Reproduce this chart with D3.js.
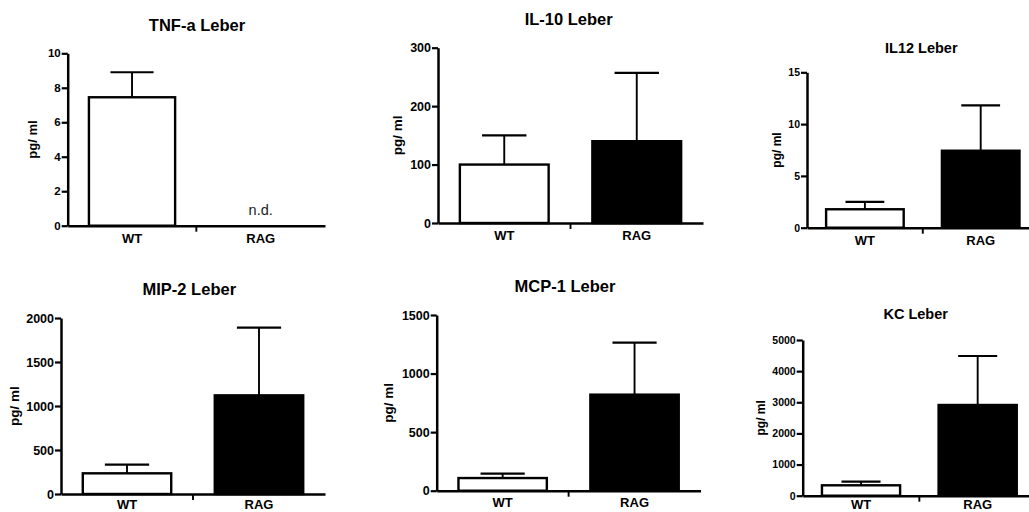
<!DOCTYPE html>
<html>
<head>
<meta charset="utf-8">
<script src="https://cdn.jsdelivr.net/npm/d3@7"></script>
<style>
  html, body { margin: 0; padding: 0; background: #fff; }
  svg { display: block; }
  text { font-family: "Liberation Sans", Arial, Helvetica, sans-serif; }
</style>
</head>
<body>
<svg id="chart" width="1029" height="512"></svg>
<script>
// Cytokine levels in liver (pg/ml), WT vs RAG, mean + SEM
const categories = ["WT", "RAG"];
const panelTitles = ["TNF-a Leber", "IL-10 Leber", "IL12 Leber", "MIP-2 Leber", "MCP-1 Leber", "KC Leber"];
const yLabel = "pg/ ml";
const yMax = [10, 300, 15, 2000, 1500, 5000];
const yTicks = [
  [0, 2, 4, 6, 8, 10],
  [0, 100, 200, 300],
  [0, 5, 10, 15],
  [0, 500, 1000, 1500, 2000],
  [0, 500, 1000, 1500],
  [0, 1000, 2000, 3000, 4000, 5000]
];
const meanWT  = [7.45, 100, 1.78, 235, 108, 334];
const semWT   = [1.45, 50, 0.72, 98, 37, 116];
const meanRAG = [null, 140, 7.43, 1121, 820, 2913];
const semRAG  = [null, 117, 4.37, 769, 444, 1573];
const notDetected = "n.d.";

// Placement of each small plot on the page
const layout = [
  {x0: 67.7,  x1: 325,    yTop: 53.3, yZero: 225.7, titleX: 197,   titleY: 30.5,  titleSize: 16.5, tickFont: 11.5, ylabX: 37,    ylabSize: 13,   labPad: 8},
  {x0: 438,   x1: 703,    yTop: 47.7, yZero: 223,   titleX: 568.7, titleY: 25,    titleSize: 16.5, tickFont: 12.5, ylabX: 402,   ylabSize: 13.5, labPad: 8},
  {x0: 807,   x1: 1038.6, yTop: 72.3, yZero: 227.7, titleX: 921.3, titleY: 52.7,  titleSize: 14.5, tickFont: 10.5, ylabX: 781,   ylabSize: 12,   labPad: 8},
  {x0: 61,    x1: 325,    yTop: 318,  yZero: 494,   titleX: 189.3, titleY: 295,   titleSize: 16.5, tickFont: 12.5, ylabX: 19,    ylabSize: 13.5, labPad: 5.5},
  {x0: 436.7, x1: 700.5,  yTop: 315,  yZero: 490.7, titleX: 565,   titleY: 292.3, titleSize: 16.5, tickFont: 12.5, ylabX: 392.5, ylabSize: 13.5, labPad: 7},
  {x0: 802.7, x1: 1036,   yTop: 340,  yZero: 495.7, titleX: 915.7, titleY: 319.3, titleSize: 14.5, tickFont: 10.5, ylabX: 765,   ylabSize: 12,   labPad: 4.5}
];

const svg = d3.select("#chart");
const fills = {WT: "#fff", RAG: "#000"};
const axisWidth = 2.5;

panelTitles.forEach((title, i) => {
  const L = layout[i];
  const g = svg.append("g");

  const x = d3.scaleBand().domain(categories).range([L.x0, L.x1])
    .paddingInner(0.33).paddingOuter(0.165);
  const y = d3.scaleLinear().domain([0, yMax[i]]).range([L.yZero, L.yTop]);

  const rows = [
    {cat: "WT",  mean: meanWT[i],  sem: semWT[i]},
    {cat: "RAG", mean: meanRAG[i], sem: semRAG[i]}
  ];
  const shown = rows.filter(d => d.mean != null);

  // bars
  g.selectAll("rect.bar").data(shown).join("rect")
    .attr("class", "bar")
    .attr("x", d => x(d.cat))
    .attr("width", x.bandwidth())
    .attr("y", d => y(d.mean))
    .attr("height", d => y(0) - y(d.mean))
    .attr("fill", d => fills[d.cat])
    .attr("stroke", "#000")
    .attr("stroke-width", 2.4);

  // upper error bars
  g.selectAll("line.err").data(shown).join("line")
    .attr("class", "err")
    .attr("x1", d => x(d.cat) + x.bandwidth() / 2)
    .attr("x2", d => x(d.cat) + x.bandwidth() / 2)
    .attr("y1", d => y(d.mean))
    .attr("y2", d => y(d.mean + d.sem))
    .attr("stroke", "#000").attr("stroke-width", 1.9);
  g.selectAll("line.cap").data(shown).join("line")
    .attr("class", "cap")
    .attr("x1", d => x(d.cat) + x.bandwidth() * 0.25)
    .attr("x2", d => x(d.cat) + x.bandwidth() * 0.75)
    .attr("y1", d => y(d.mean + d.sem))
    .attr("y2", d => y(d.mean + d.sem))
    .attr("stroke", "#000").attr("stroke-width", 2.2);

  // not-detected note
  rows.filter(d => d.mean == null).forEach(d => {
    g.append("text")
      .attr("x", x(d.cat) + x.bandwidth() / 2)
      .attr("y", y(0) - 11)
      .attr("text-anchor", "middle")
      .attr("font-size", 14.5)
      .attr("fill", "#222")
      .text(notDetected);
  });

  // y axis
  const yAxis = g.append("g")
    .attr("transform", `translate(${L.x0},0)`)
    .call(d3.axisLeft(y).tickValues(yTicks[i]).tickFormat(d3.format("d"))
      .tickSize(6).tickSizeOuter(0).tickPadding(1));
  yAxis.select(".domain").attr("stroke-width", axisWidth);
  yAxis.selectAll(".tick line").attr("stroke-width", 2.2);
  yAxis.selectAll(".tick text")
    .attr("font-size", L.tickFont).attr("font-weight", "bold")
    .attr("font-family", "Liberation Sans, Arial, sans-serif");

  // x axis
  const xAxis = g.append("g")
    .attr("transform", `translate(0,${L.yZero})`)
    .call(d3.axisBottom(x).tickSize(0).tickSizeOuter(0).tickPadding(L.labPad));
  xAxis.select(".domain").attr("stroke-width", axisWidth);
  xAxis.selectAll(".tick text")
    .attr("font-size", 13).attr("font-weight", "bold")
    .attr("font-family", "Liberation Sans, Arial, sans-serif");

  // small tick between the two groups
  const mid = (x("WT") + x.bandwidth() + x("RAG")) / 2;
  g.append("line")
    .attr("x1", mid).attr("x2", mid)
    .attr("y1", L.yZero).attr("y2", L.yZero + 6)
    .attr("stroke", "#000").attr("stroke-width", 1.9);

  // axis title
  g.append("text")
    .attr("transform", `translate(${L.ylabX},${(L.yTop + L.yZero) / 2}) rotate(-90)`)
    .attr("text-anchor", "middle")
    .attr("font-size", L.ylabSize)
    .attr("font-weight", "bold")
    .text(yLabel);

  // panel title
  g.append("text")
    .attr("x", L.titleX).attr("y", L.titleY)
    .attr("text-anchor", "middle")
    .attr("font-size", L.titleSize)
    .attr("font-weight", "bold")
    .text(title);
});
</script>
</body>
</html>
